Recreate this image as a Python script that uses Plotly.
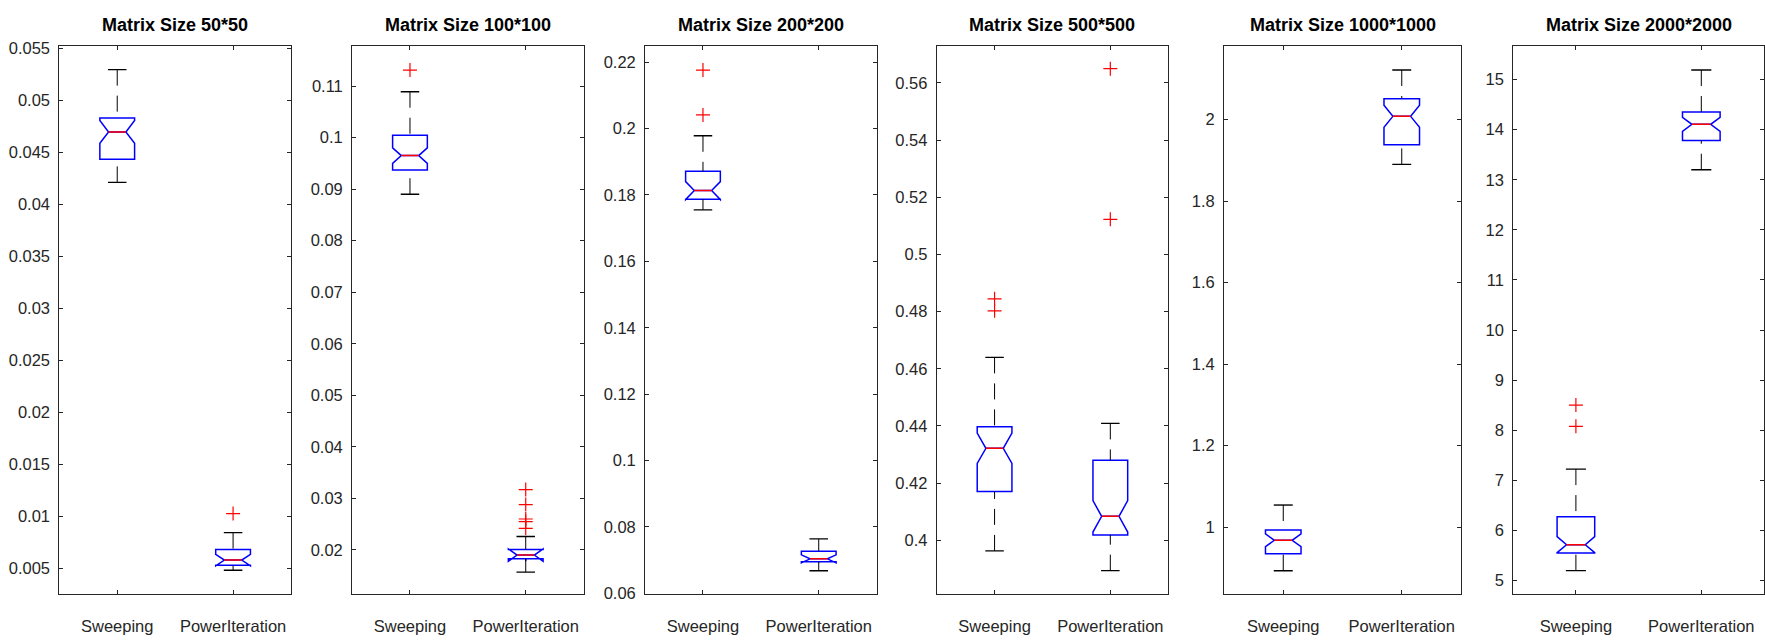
import plotly.graph_objects as go

# ---------------- data ----------------
titles = ["Matrix Size 50*50", "Matrix Size 100*100", "Matrix Size 200*200",
          "Matrix Size 500*500", "Matrix Size 1000*1000", "Matrix Size 2000*2000"]
categories = ["Sweeping", "PowerIteration"]

sw_lo    = [0.04214, 0.0890, 0.1755, 0.3963, 0.8929, 5.20]
sw_q1    = [0.04436, 0.0937, 0.1787, 0.4171, 0.9342, 5.551]
sw_med   = [0.04699, 0.0965, 0.1813, 0.4322, 0.9675, 5.718]
sw_q3    = [0.04834, 0.10046, 0.1871, 0.4397, 0.993, 6.277]
sw_hi    = [0.05298, 0.1089, 0.1978, 0.4640, 1.054, 7.227]
sw_notch = [0.0011, 0.0015, 0.0027, 0.0053, 0.0157, 0.16]
sw_out   = [[], [0.1131], [0.2176, 0.2041], [0.4845, 0.4803], [], [8.504, 8.08]]

pi_lo    = [0.00485, 0.0157, 0.0668, 0.3894, 1.890, 13.20]
pi_q1    = [0.00532, 0.0183, 0.0695, 0.4019, 1.938, 13.786]
pi_med   = [0.00583, 0.0190, 0.0704, 0.4084, 2.0079, 14.106]
pi_q3    = [0.00685, 0.0201, 0.0727, 0.4280, 2.0511, 14.354]
pi_hi    = [0.00847, 0.0226, 0.0764, 0.4409, 2.1217, 15.19]
pi_notch = [0.00055, 0.0012, 0.0012, 0.0055, 0.027, 0.14]
pi_out   = [[0.0103], [0.0317, 0.0288, 0.0260, 0.0255, 0.0242], [], [0.5650, 0.5123], [], []]

y_ranges = [[0.00253, 0.05527], [0.01138, 0.1178], [0.0597, 0.2249],
            [0.3811, 0.5730], [0.8348, 2.181], [4.727, 15.673]]
y_tickvals = [
    [0.005, 0.01, 0.015, 0.02, 0.025, 0.03, 0.035, 0.04, 0.045, 0.05, 0.055],
    [0.02, 0.03, 0.04, 0.05, 0.06, 0.07, 0.08, 0.09, 0.1, 0.11],
    [0.06, 0.08, 0.1, 0.12, 0.14, 0.16, 0.18, 0.2, 0.22],
    [0.4, 0.42, 0.44, 0.46, 0.48, 0.5, 0.52, 0.54, 0.56],
    [1, 1.2, 1.4, 1.6, 1.8, 2],
    [5, 6, 7, 8, 9, 10, 11, 12, 13, 14, 15],
]
y_ticktext = [
    ["0.005", "0.01", "0.015", "0.02", "0.025", "0.03", "0.035", "0.04", "0.045", "0.05", "0.055"],
    ["0.02", "0.03", "0.04", "0.05", "0.06", "0.07", "0.08", "0.09", "0.1", "0.11"],
    ["0.06", "0.08", "0.1", "0.12", "0.14", "0.16", "0.18", "0.2", "0.22"],
    ["0.4", "0.42", "0.44", "0.46", "0.48", "0.5", "0.52", "0.54", "0.56"],
    ["1", "1.2", "1.4", "1.6", "1.8", "2"],
    ["5", "6", "7", "8", "9", "10", "11", "12", "13", "14", "15"],
]

# ---------------- layout / style ----------------
W, H = 1765, 641
x_px = [(59.3, 291.0), (352.1, 583.6), (645.1, 876.6),
        (936.7, 1168.2), (1224.0, 1461.0), (1513.2, 1764.0)]
y_top_px, y_bot_px = 40.7, 601.5
BOX_W = 0.3
NOTCH_W = 0.25          # plotly: fraction of box width indented on each side
CAP_HW = 0.08
MED_HW = BOX_W / 2 * (1 - 2 * NOTCH_W)
FONT = "Liberation Sans, Arial, sans-serif"
AX_COL = "#262626"

fig = go.Figure()
xpos = [1, 2]

for i in range(6):
    sfx = "" if i == 0 else str(i + 1)
    xr, yr = "x" + sfx, "y" + sfx
    lo = [sw_lo[i], pi_lo[i]]
    q1 = [sw_q1[i], pi_q1[i]]
    md = [sw_med[i], pi_med[i]]
    q3 = [sw_q3[i], pi_q3[i]]
    hi = [sw_hi[i], pi_hi[i]]
    nt = [sw_notch[i], pi_notch[i]]

    fig.add_trace(go.Box(
        x=xpos, q1=q1, median=md, q3=q3, lowerfence=q1, upperfence=q3,
        notched=True, notchspan=nt, notchwidth=NOTCH_W, width=BOX_W,
        whiskerwidth=0, boxpoints=False,
        line=dict(color="#0000FF", width=1.5), fillcolor="rgba(0,0,0,0)",
        xaxis=xr, yaxis=yr, showlegend=False, hoverinfo="skip"))

    # whiskers (dashed, drawn from cap to box)
    wx, wy = [], []
    for c, a, b in zip(xpos, hi, q3):
        wx += [c, c, None]; wy += [a, b, None]
    for c, a, b in zip(xpos, lo, q1):
        wx += [c, c, None]; wy += [a, b, None]
    fig.add_trace(go.Scatter(x=wx, y=wy, mode="lines",
                             line=dict(color="black", width=1, dash="16px,10px"),
                             xaxis=xr, yaxis=yr, showlegend=False, hoverinfo="skip"))
    # caps
    cx, cy = [], []
    for c, a, b in zip(xpos, hi, lo):
        cx += [c - CAP_HW, c + CAP_HW, None, c - CAP_HW, c + CAP_HW, None]
        cy += [a, a, None, b, b, None]
    fig.add_trace(go.Scatter(x=cx, y=cy, mode="lines",
                             line=dict(color="black", width=1.4),
                             xaxis=xr, yaxis=yr, showlegend=False, hoverinfo="skip"))
    # medians
    mx, my = [], []
    for c, m in zip(xpos, md):
        mx += [c - MED_HW, c + MED_HW, None]
        my += [m, m, None]
    fig.add_trace(go.Scatter(x=mx, y=my, mode="lines",
                             line=dict(color="#FF0000", width=1.5),
                             xaxis=xr, yaxis=yr, showlegend=False, hoverinfo="skip"))
    # outliers
    ox, oy = [], []
    for c, outs in zip(xpos, [sw_out[i], pi_out[i]]):
        ox += [c] * len(outs); oy += outs
    if ox:
        fig.add_trace(go.Scatter(x=ox, y=oy, mode="markers",
                                 marker=dict(symbol="cross-thin", size=10,
                                             line=dict(color="#FF0000", width=1.2)),
                                 xaxis=xr, yaxis=yr, showlegend=False, hoverinfo="skip"))

    x0, x1 = x_px[i]
    common = dict(showline=True, linecolor=AX_COL, linewidth=1, mirror="ticks",
                  ticks="inside", ticklen=4, tickcolor=AX_COL, tickwidth=1,
                  showgrid=False, zeroline=False,
                  tickfont=dict(family=FONT, size=16.5, color=AX_COL))
    fig.layout["xaxis" + sfx] = dict(domain=[x0 / W, x1 / W], anchor=yr,
                                     range=[0.5, 2.5], tickvals=xpos, ticktext=categories,
                                     ticklabelstandoff=17, **common)
    fig.layout["yaxis" + sfx] = dict(domain=[1 - y_bot_px / H, 1 - y_top_px / H], anchor=xr,
                                     range=y_ranges[i], tickvals=y_tickvals[i],
                                     ticktext=y_ticktext[i], ticklabelstandoff=5, **common)
    fig.add_annotation(text="<b>" + titles[i] + "</b>", xref="paper", yref="paper",
                       x=(x0 + x1) / 2 / W, y=1 - 19.7 / H, xanchor="center", yanchor="middle",
                       showarrow=False, font=dict(family=FONT, size=18, color="black"))

fig.update_layout(width=W, height=H, margin=dict(l=0, r=0, t=0, b=0),
                  paper_bgcolor="white", plot_bgcolor="white")
fig.write_html("out.html", config={"displayModeBar": False},
               post_script="document.body.style.margin='0';document.body.style.padding='0';"
                           "document.body.style.overflow='hidden';")
